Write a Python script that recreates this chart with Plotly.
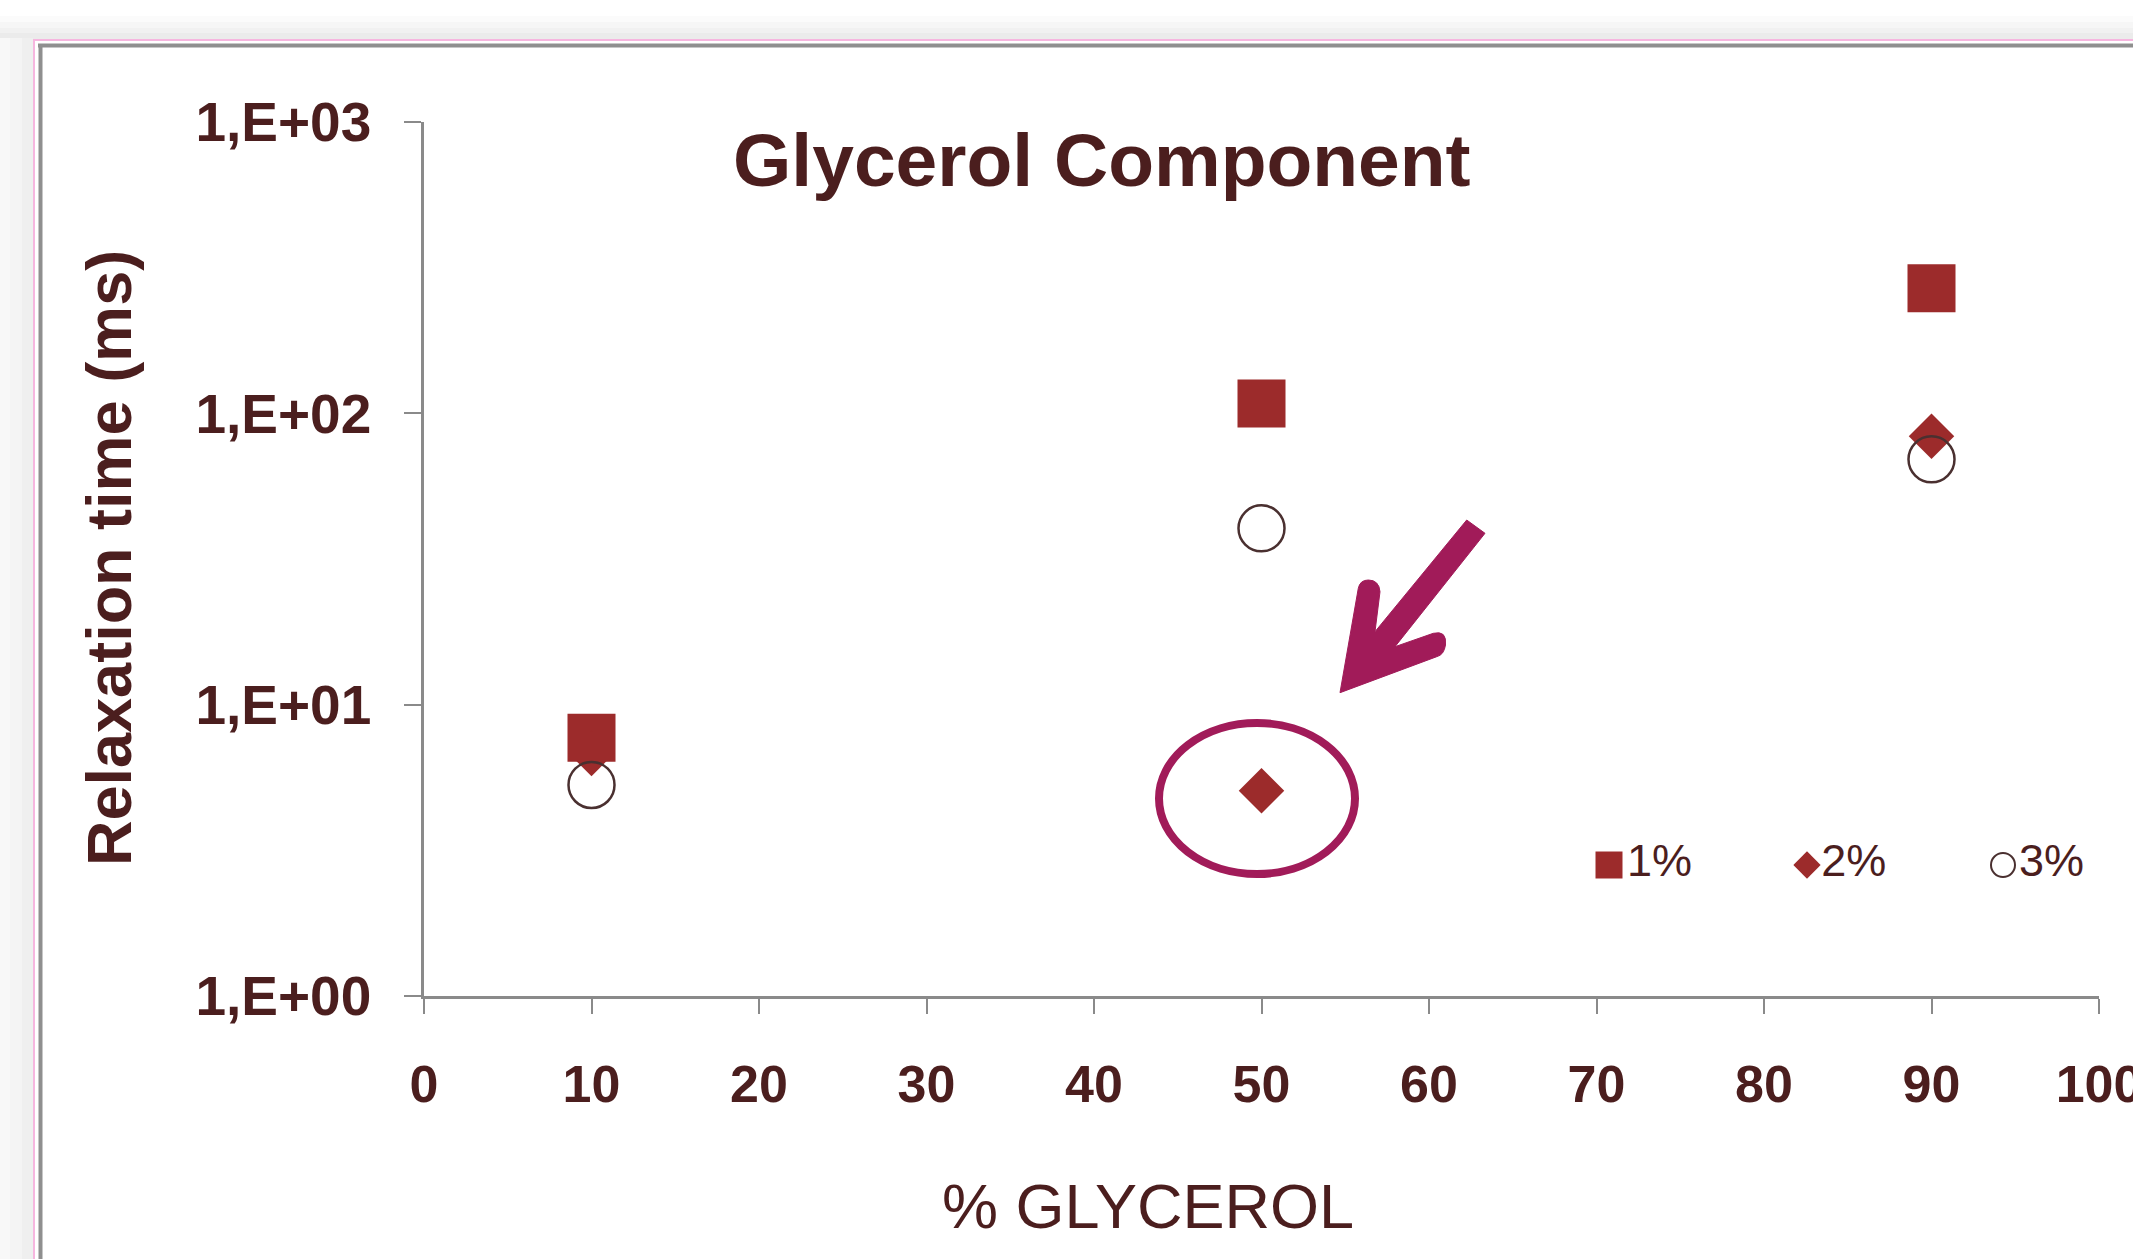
import plotly.graph_objects as go

# ---------------- data ----------------
glycerol_pct = [10, 50, 90]
series_names = ["1%", "2%", "3%"]
relax_1pct = [7.7, 108, 269]
relax_2pct = [6.8, 5.06, 83.4]
relax_3pct = [5.3, 40.3, 69.5]
x_tick_vals = [0, 10, 20, 30, 40, 50, 60, 70, 80, 90, 100]
y_tick_vals = [1, 10, 100, 1000]
y_tick_text = ["1,E+00", "1,E+01", "1,E+02", "1,E+03"]
chart_title = "Glycerol Component"
x_title = "% GLYCEROL"
y_title = "Relaxation time (ms)"

# ---------------- layout geometry ----------------
W, H = 2133, 1259
L, R, T, B = 424, 34, 122, 263
PW = W - L - R
PH = H - T - B


def px(x):
    return (x - L) / PW


def py(y):
    return (H - B - y) / PH


def pt(x, y):
    return f"{px(x):.5f},{py(y):.5f}"


TXT = "#4b1e1e"
RED = "#9c2b2b"
MAG = "#a11b59"
AXC = "#8a8a8a"
SANS = "Liberation Sans, Arial, sans-serif"

fig = go.Figure()

fig.add_trace(go.Scatter(
    x=glycerol_pct, y=relax_1pct, mode="markers", name=series_names[0],
    marker=dict(symbol="square", size=48, color=RED, line=dict(width=0)),
    cliponaxis=False, showlegend=False))
fig.add_trace(go.Scatter(
    x=glycerol_pct, y=relax_2pct, mode="markers", name=series_names[1],
    marker=dict(symbol="diamond", size=35, color=RED, line=dict(width=0)),
    cliponaxis=False, showlegend=False))
fig.add_trace(go.Scatter(
    x=glycerol_pct, y=relax_3pct, mode="markers", name=series_names[2],
    marker=dict(symbol="circle-open", size=46, color="#4a3030", line=dict(width=2.5)),
    cliponaxis=False, showlegend=False))

# custom legend drawn on an overlay axis pair (0..1 paper-like)
leg_y = py(865)
leg_x = [px(1609), px(1807), px(2003)]
leg_markers = [
    dict(symbol="square", size=27, color=RED, line=dict(width=0)),
    dict(symbol="diamond", size=21, color=RED, line=dict(width=0)),
    dict(symbol="circle-open", size=24, color="#4a3030", line=dict(width=2)),
]
for name, lx, mk in zip(series_names, leg_x, leg_markers):
    fig.add_trace(go.Scatter(
        x=[lx], y=[leg_y], xaxis="x2", yaxis="y2", mode="markers+text",
        text=[name], textposition="middle right",
        textfont=dict(family=SANS, size=45, color=TXT),
        marker=mk, cliponaxis=False, showlegend=False, hoverinfo="skip"))

shapes = []
# page background outside the frame (grey gradient imitation)
top_steps = [(0, 16, "#ffffff"), (16, 22, "#fbfbfb"), (22, 28, "#f6f6f6"),
             (28, 33, "#f1f1f1"), (33, 39, "#ebebeb")]
for y0, y1, c in top_steps:
    shapes.append(dict(type="rect", xref="paper", yref="paper",
                       x0=px(0), x1=px(W), y0=py(y1), y1=py(y0),
                       fillcolor=c, line=dict(width=0), layer="below"))
left_steps = [(0, 10, "#f8f8f8"), (10, 22, "#f4f4f4"), (22, 33, "#efefef")]
for x0, x1, c in left_steps:
    shapes.append(dict(type="rect", xref="paper", yref="paper",
                       x0=px(x0), x1=px(x1), y0=py(H), y1=py(38),
                       fillcolor=c, line=dict(width=0), layer="below"))
# pink frame line
shapes.append(dict(type="line", xref="paper", yref="paper",
                   x0=px(33), x1=px(W), y0=py(40), y1=py(40),
                   line=dict(color="#f6b6df", width=2)))
shapes.append(dict(type="line", xref="paper", yref="paper",
                   x0=px(34), x1=px(34), y0=py(40), y1=py(H),
                   line=dict(color="#f6b6df", width=2)))
# grey frame line
shapes.append(dict(type="line", xref="paper", yref="paper",
                   x0=px(38), x1=px(W), y0=py(45.5), y1=py(45.5),
                   line=dict(color="#8f8f8f", width=4)))
shapes.append(dict(type="line", xref="paper", yref="paper",
                   x0=px(40.5), x1=px(40.5), y0=py(44), y1=py(H),
                   line=dict(color="#8f8f8f", width=4)))
# highlight ellipse around the 50% / 2% point
shapes.append(dict(type="circle", xref="paper", yref="paper",
                   x0=px(1159), x1=px(1355), y0=py(874), y1=py(723),
                   line=dict(color=MAG, width=8)))
# callout arrow (filled outline with rounded chevron ends)
arrow_path = (
    "M" + pt(1466.7, 520) +
    " L" + pt(1485, 533.3) +
    " L" + pt(1395, 646.7) +
    " L" + pt(1433.3, 633.3) +
    " Q" + pt(1447, 630) + " " + pt(1445.5, 645) +
    " Q" + pt(1444, 655) + " " + pt(1436.7, 656.7) +
    " L" + pt(1340, 692.7) +
    " L" + pt(1358.3, 588.3) +
    " Q" + pt(1360, 580) + " " + pt(1368.3, 580) +
    " Q" + pt(1379, 580) + " " + pt(1380, 591.7) +
    " L" + pt(1375, 631.7) +
    " Z"
)
shapes.append(dict(type="path", xref="paper", yref="paper", path=arrow_path,
                   fillcolor=MAG, line=dict(color=MAG, width=1)))

annotations = [
    dict(text=chart_title, xref="paper", yref="paper", x=px(1102), y=py(160),
         xanchor="center", yanchor="middle", showarrow=False,
         font=dict(family=SANS, size=75, color=TXT, weight="bold")),
    dict(text=y_title, xref="paper", yref="paper", x=px(109), y=py(558),
         xanchor="center", yanchor="middle", textangle=-90, showarrow=False,
         font=dict(family=SANS, size=63, color=TXT, weight="bold")),
    dict(text=x_title, xref="paper", yref="paper", x=px(1148), y=py(1206),
         xanchor="center", yanchor="middle", showarrow=False,
         font=dict(family=SANS, size=63, color=TXT)),
]

fig.update_layout(
    width=W, height=H, autosize=False,
    margin=dict(l=L, r=R, t=T, b=B, pad=0, autoexpand=False),
    paper_bgcolor="white", plot_bgcolor="white",
    showlegend=False,
    shapes=shapes, annotations=annotations,
    xaxis=dict(range=[0, 100], tickmode="array", tickvals=x_tick_vals,
               showgrid=False, zeroline=False, showline=True, automargin=False,
               linecolor=AXC, linewidth=2.5, ticks="outside", ticklen=15,
               tickwidth=2, tickcolor=AXC, ticklabelstandoff=26,
               ticklabeloverflow="allow",
               tickfont=dict(family=SANS, size=52, color=TXT, weight="bold")),
    yaxis=dict(type="log", range=[0, 3], tickmode="array",
               tickvals=y_tick_vals, ticktext=y_tick_text,
               showgrid=False, zeroline=False, showline=True, automargin=False,
               linecolor=AXC, linewidth=2.5, ticks="outside", ticklen=17,
               tickwidth=2, tickcolor=AXC, ticklabelstandoff=22,
               ticklabeloverflow="allow",
               tickfont=dict(family=SANS, size=55, color=TXT, weight="bold")),
    xaxis2=dict(overlaying="x", range=[0, 1], visible=False, automargin=False),
    yaxis2=dict(overlaying="y", range=[0, 1], visible=False, automargin=False),
)

fig.write_html(
    "out.html",
    config={"responsive": False, "displayModeBar": False},
    post_script="document.body.style.margin='0px';"
                "document.body.style.overflow='hidden';",
)
